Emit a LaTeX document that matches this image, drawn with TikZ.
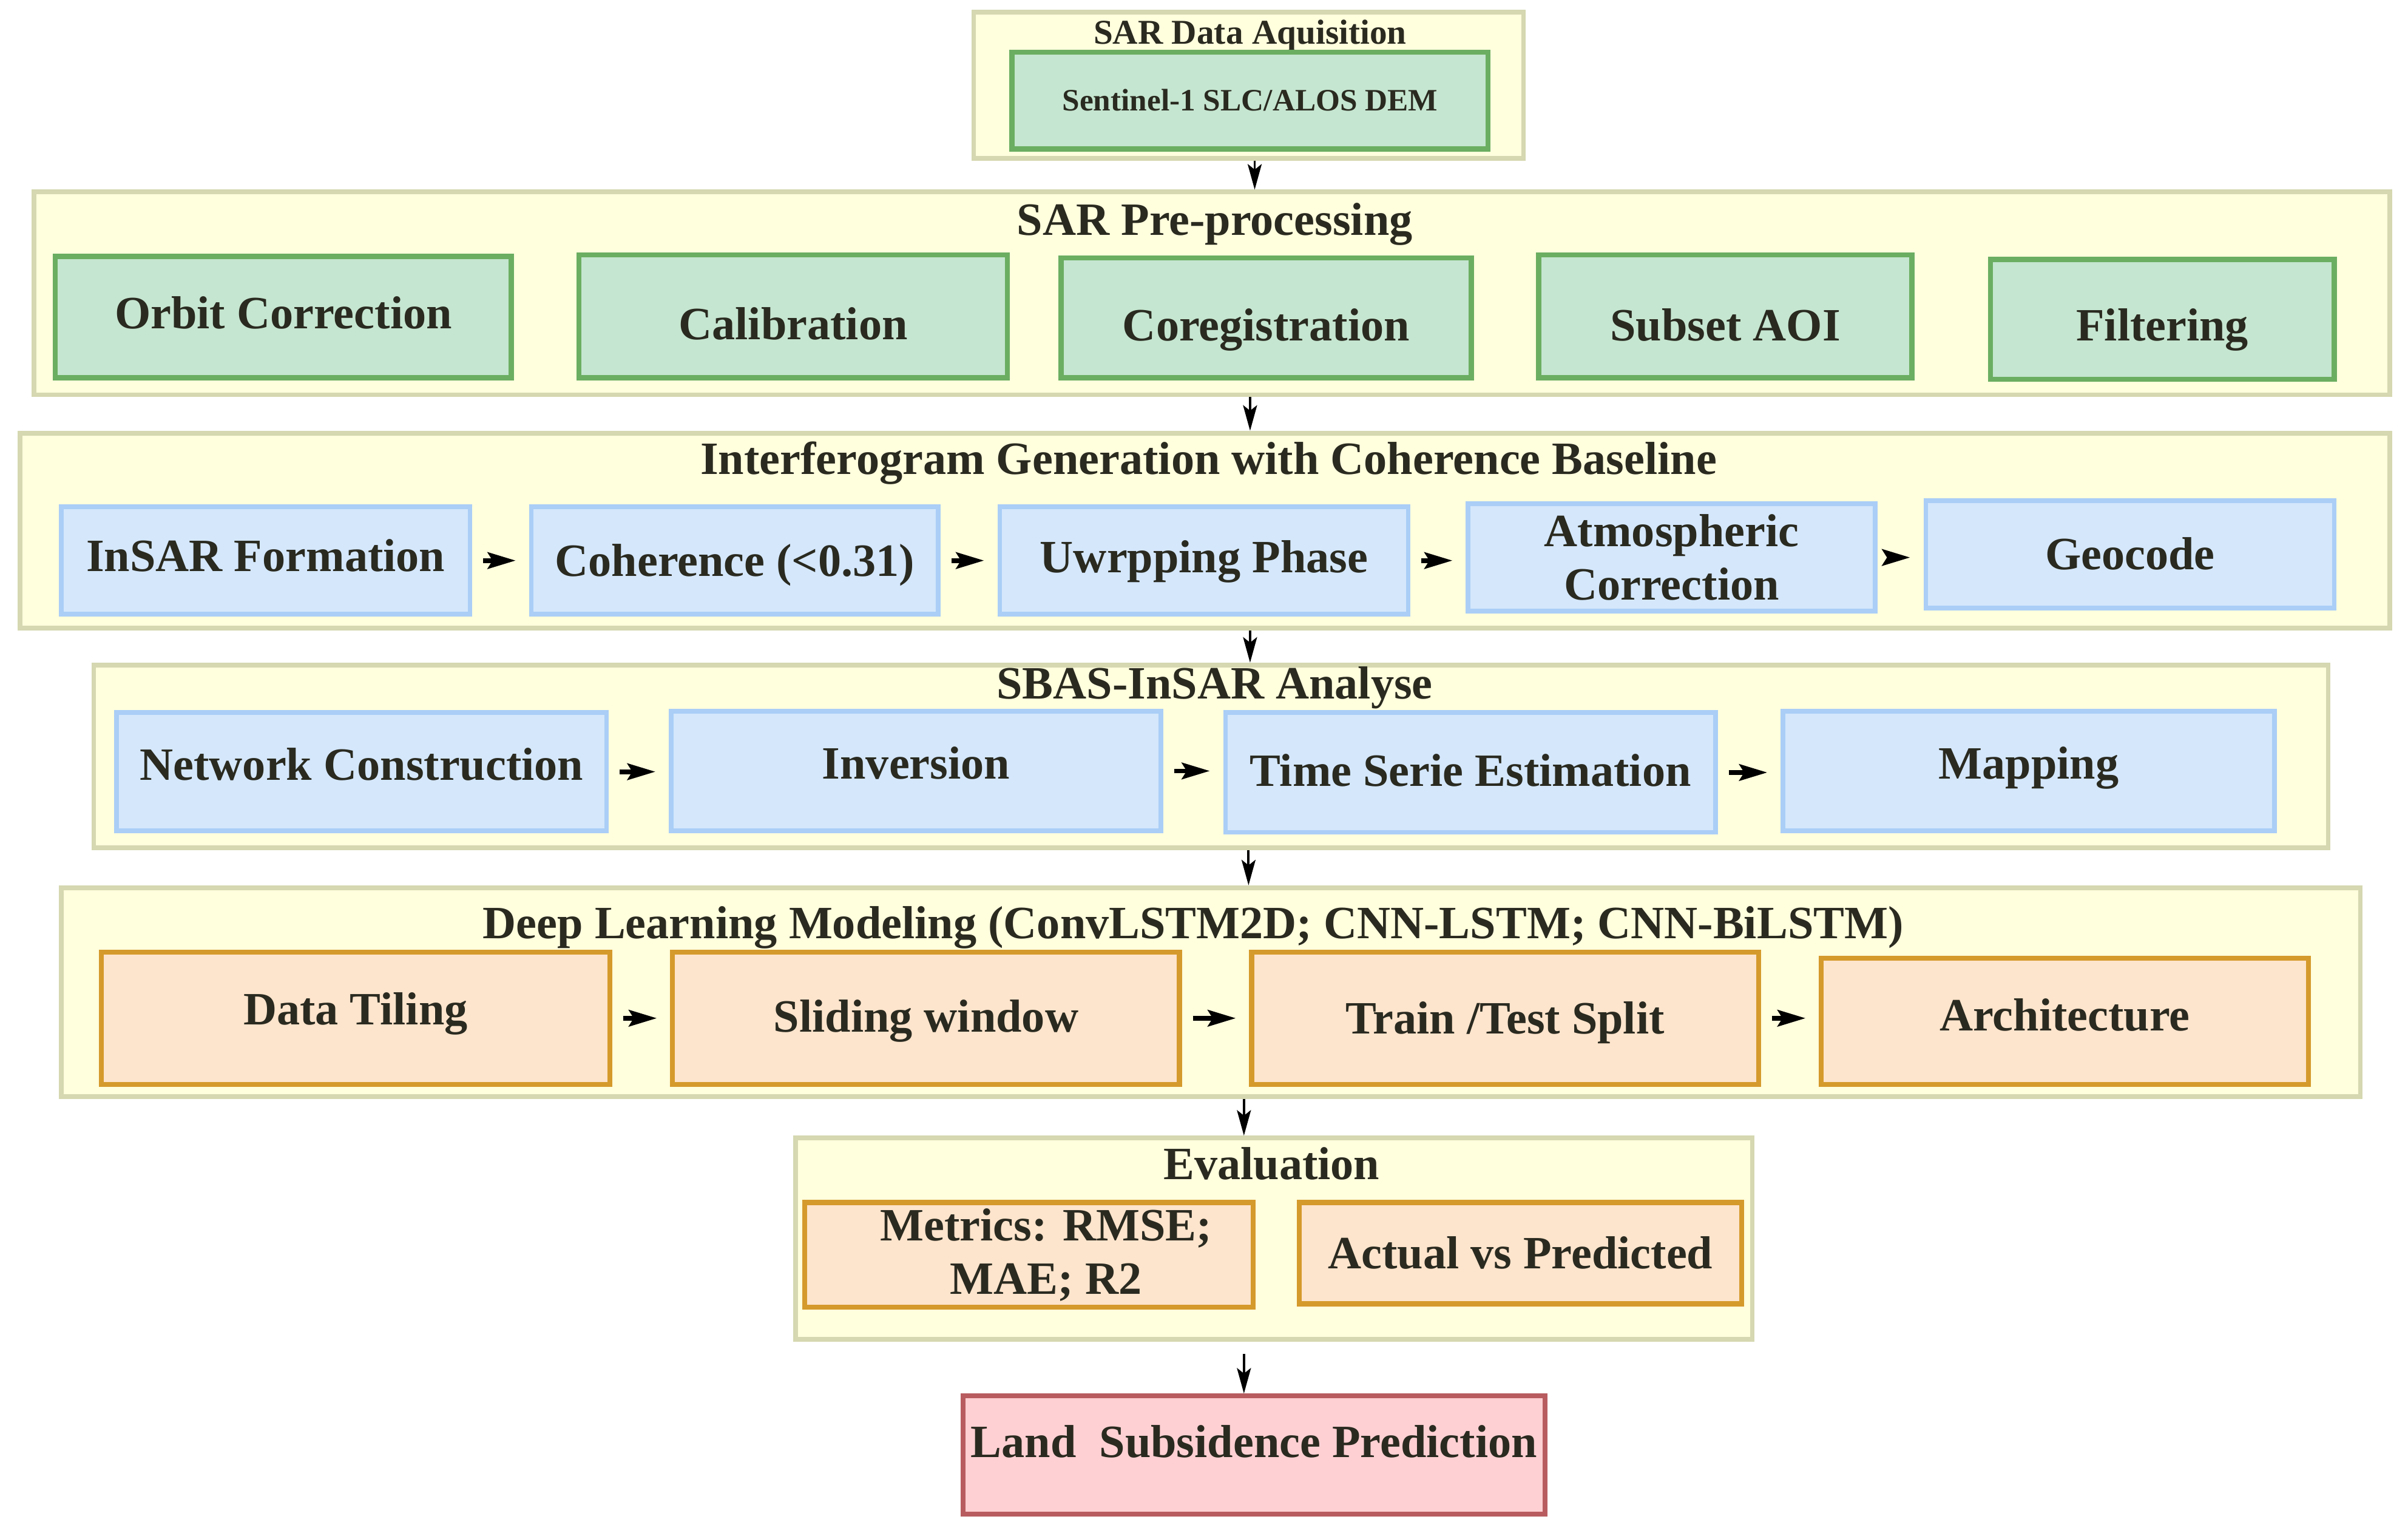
\documentclass[tikz,border=0pt]{standalone}
\usepackage{fontspec}
\setmainfont{Liberation Serif}
\usetikzlibrary{arrows.meta}
\definecolor{contF}{HTML}{FFFEDD}
\definecolor{contB}{HTML}{D5D8B0}
\definecolor{grnF}{HTML}{C5E6D0}
\definecolor{grnB}{HTML}{6BAE62}
\definecolor{bluF}{HTML}{D4E7FB}
\definecolor{bluB}{HTML}{AACEF6}
\definecolor{orgF}{HTML}{FDE4CC}
\definecolor{orgB}{HTML}{D59A2C}
\definecolor{pnkF}{HTML}{FFD0D3}
\definecolor{pnkB}{HTML}{B85C60}
\definecolor{txtC}{HTML}{2A2A20}
\newcommand\mainsz{\fontsize{21.7pt}{25pt}\selectfont\bfseries}
\newcommand\acqsz{\fontsize{16.3pt}{19pt}\selectfont\bfseries}
\newcommand\sensz{\fontsize{14.6pt}{17pt}\selectfont\bfseries}
\tikzset{
  sz/.style 2 args={minimum width=#1*0.25306mm, minimum height=#2*0.25306mm},
  cont/.style={draw=contB, fill=contF, line width=2.2pt, inner sep=0pt},
  boxbase/.style={inner sep=0pt, text=txtC, font=\mainsz, text height=14.4pt, text depth=0pt},
  grn/.style={boxbase, draw=grnB, fill=grnF, line width=2.4pt},
  blu/.style={boxbase, draw=bluB, fill=bluF, line width=2.2pt},
  org/.style={boxbase, draw=orgB, fill=orgF, line width=2.3pt},
  pnk/.style={boxbase, draw=pnkB, fill=pnkF, line width=2.3pt},
  twol/.style={align=center, text height=, text depth=},
  tup/.style={text depth=#1},
  tdn/.style={text height=#1},
  ttl/.style={inner sep=0pt, text=txtC, font=\mainsz, text height=14.4pt, text depth=0pt},
  varr/.style={draw=black, line width=1.1pt, -{Stealth[length=4.2mm,width=2.3mm,inset=0.9mm]}},
  harr/.style={draw=black, line width=2.2pt, -{Stealth[length=4.6mm,width=2.7mm,inset=0.8mm]},
    shorten <=1.8mm, shorten >=2.2mm},
}
\begin{document}
\begin{tikzpicture}[x=0.25306mm,y=-0.25306mm]
\useasboundingbox (0,0) rectangle (1568,1002);

% containers
\node[cont, sz={358}{95}]   (acq)  at (813,55.5) {};
\node[cont, sz={1534}{132}] (pre)  at (789,191) {};
\node[cont, sz={1543}{127}] (ifg)  at (784.5,345.5) {};
\node[cont, sz={1455}{119}] (sbas) at (788.5,492.5) {};
\node[cont, sz={1497}{136}] (dl)   at (788.5,646) {};
\node[cont, sz={623}{131}]  (eval) at (829.5,806.5) {};

% titles
\node[ttl, font=\acqsz, text height=10.8pt] (acqT) at (814,21) {SAR Data Aquisition};
\node[ttl] (preT)  at (791,143) {SAR Pre-processing};
\node[ttl] (ifgT)  at (787,299) {Interferogram Generation with Coherence Baseline};
\node[ttl] (sbasT) at (791,445) {SBAS-InSAR Analyse};
\node[ttl] (dlT)   at (777,601) {Deep Learning Modeling (ConvLSTM2D; CNN-LSTM; CNN-BiLSTM)};
\node[ttl] (evalT) at (828,758) {Evaluation};

% acquisition
\node[grn, sz={310}{63}, font=\sensz, text height=9.7pt] (sen) at (814,65.5) {Sentinel-1 SLC/ALOS DEM};

% pre-processing
\node[grn, sz={297}{79}, tup=3.6pt]  (orb) at (184.5,206.5) {Orbit Correction};
\node[grn, sz={279}{80}, tdn=21.6pt] (cal) at (516.5,206) {Calibration};
\node[grn, sz={267}{78}, tdn=21.6pt] (cor) at (824.5,207) {Coregistration};
\node[grn, sz={243}{80}, tdn=23pt]   (sub) at (1123.5,206) {Subset AOI};
\node[grn, sz={224}{78}, tdn=20.2pt] (fil) at (1408,208) {Filtering};

% interferogram
\node[blu, sz={266}{70}, tup=4.3pt] (ins) at (173,365) {InSAR Formation};
\node[blu, sz={265}{70}]            (coh) at (478.5,365) {Coherence (<0.31)};
\node[blu, sz={266}{70}, tup=2.9pt] (unw) at (784,365) {Uwrpping Phase};
\node[blu, sz={265}{70}, twol]      (atm) at (1088.5,363) {Atmospheric\\Correction};
\node[blu, sz={266}{70}]            (geo) at (1387,361) {Geocode};

% sbas
\node[blu, sz={319}{77}, tup=6.5pt] (net) at (235.5,502.5) {Network Construction};
\node[blu, sz={319}{78}, tup=7.2pt] (inv) at (596.5,502) {Inversion};
\node[blu, sz={319}{78}, tup=1.4pt] (tse) at (957.5,503) {Time Serie Estimation};
\node[blu, sz={320}{78}, tup=7.2pt] (map) at (1321,502) {Mapping};

% deep learning
\node[org, sz={331}{86}, tup=8.6pt] (til) at (231.5,663) {Data Tiling};
\node[org, sz={330}{86}, tup=1.4pt] (sld) at (603,663) {Sliding window};
\node[org, sz={330}{86}]            (trn) at (980,663) {Train /Test Split};
\node[org, sz={317}{82}, tup=5.8pt] (arc) at (1344.5,665) {Architecture};

% evaluation
\node[org, sz={292}{68}, twol] (met) at (670,817) {\hspace*{16pt}Metrics: RMSE;\\\hspace*{16pt}MAE; R2};
\node[org, sz={288}{66}]       (act) at (990,816) {Actual vs Predicted};

% result
\node[pnk, sz={379}{77}, tup=12.2pt] (lsp) at (816.5,947.5) {Land~~Subsidence Prediction};

% vertical connectors
\coordinate (c1) at (817,0);
\coordinate (c2) at (814,0);
\coordinate (c3) at (814,0);
\coordinate (c4) at (813,0);
\coordinate (c5) at (810,0);
\coordinate (c6) at (810,0);
\draw[varr] (acq.south -| c1) -- (pre.north -| c1);
\draw[varr] (pre.south -| c2) -- (ifg.north -| c2);
\draw[varr] (ifg.south -| c3) -- (sbas.north -| c3);
\draw[varr] (sbas.south -| c4) -- (dl.north -| c4);
\draw[varr] (dl.south -| c5) -- (eval.north -| c5);
\draw[varr, shorten <=2mm] (eval.south -| c6) -- (lsp.north -| c6);

% horizontal connectors
\draw[harr] (ins.east) -- (ins.east -| coh.west);
\draw[harr] (coh.east) -- (coh.east -| unw.west);
\draw[harr] (unw.east) -- (unw.east -| atm.west);
\draw[harr] (atm.east) -- (atm.east -| geo.west);
\draw[harr] (net.east) -- (net.east -| inv.west);
\draw[harr] (inv.east) -- (inv.east -| tse.west);
\draw[harr] (tse.east) -- (tse.east -| map.west);
\draw[harr] (til.east) -- (til.east -| sld.west);
\draw[harr] (sld.east) -- (sld.east -| trn.west);
\draw[harr] (trn.east) -- (trn.east -| arc.west);
\end{tikzpicture}
\end{document}
